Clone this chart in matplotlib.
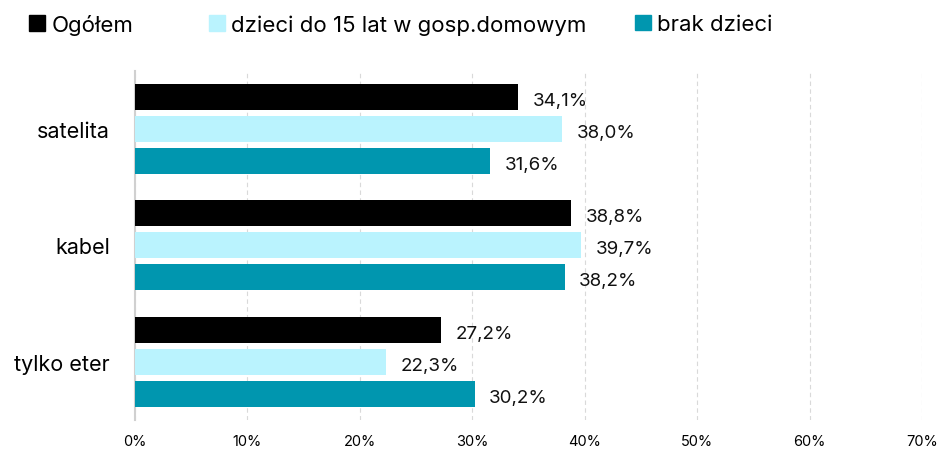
import matplotlib.pyplot as plt
import numpy as np
from matplotlib.patches import Patch

plt.rcParams['font.family'] = ['Inter', 'DejaVu Sans']

categories = ['satelita', 'kabel', 'tylko eter']
series_names = ['Ogółem', 'dzieci do 15 lat w gosp.domowym', 'brak dzieci']
ogolem = [34.1, 38.8, 27.2]
dzieci = [38.0, 39.7, 22.3]
brak = [31.6, 38.2, 30.2]
colors = ['#000000', '#BAF3FE', '#0096AF']
xticks = [0, 10, 20, 30, 40, 50, 60, 70]

fig = plt.figure(figsize=(9.38, 4.52), dpi=100)
ax = fig.add_axes([0.144, 0.069, 0.839, 0.772])

y = np.arange(len(categories))
step = 0.275
height = 0.223
for i, (vals, col) in enumerate(zip([ogolem, dzieci, brak], colors)):
    pos = y + (i - 1) * step
    ax.barh(pos, vals, height=height, color=col, zorder=3)
    for p, v in zip(pos, vals):
        ax.text(v + 1.3, p + 0.03, f'{v:.1f}%'.replace('.', ','), va='center', ha='left',
                fontsize=13.5, color='#111111')

ax.set_xlim(0, 70)
ax.set_ylim(2.5, -0.5)
ax.set_yticks(y)
ax.set_yticklabels(categories, fontsize=15.5)
ax.set_xticks(xticks)
ax.set_xticklabels([f'{t}%' for t in xticks], fontsize=10.5)
ax.tick_params(axis='both', length=0)
ax.tick_params(axis='y', pad=18)
ax.tick_params(axis='x', pad=10)
ax.grid(axis='x', color='#D9D9D9', linestyle=(0, (4, 3)), linewidth=0.8, zorder=0)
for s in ['top', 'right', 'bottom']:
    ax.spines[s].set_visible(False)
ax.spines['left'].set_color('#D0D0D0')
ax.spines['left'].set_linewidth(1.5)

# one legend per entry so each sits where the reference puts it
legend_x = [0.031, 0.223, 0.677]
for name, col, lx in zip(series_names, colors, legend_x):
    leg = fig.legend([Patch(color=col)], [name], loc='center left', bbox_to_anchor=(lx, 0.944),
                     frameon=False, fontsize=16, handlelength=0.7, handleheight=0.7,
                     handletextpad=0.3, borderpad=0, borderaxespad=0)

fig.savefig('out.png', dpi=100)
